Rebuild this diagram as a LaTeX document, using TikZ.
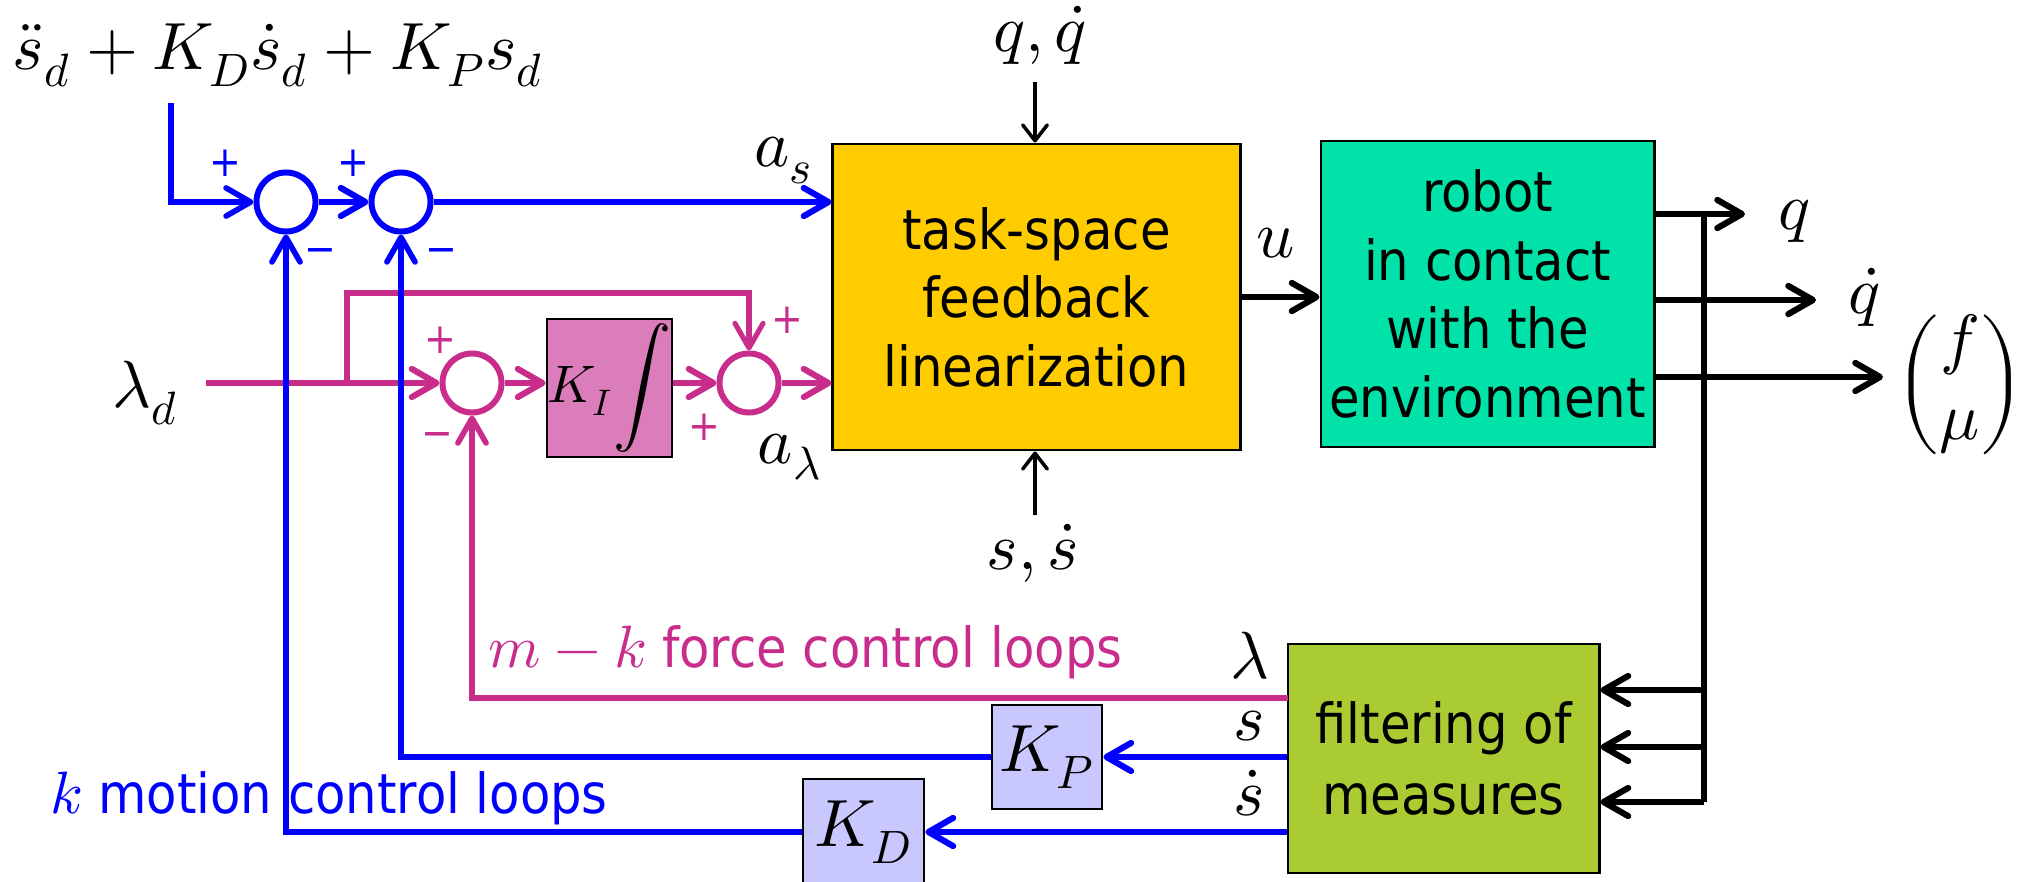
\documentclass[tikz,border=0pt]{standalone}
\usepackage{amsmath}
\usepackage{unicode-math}
\setmainfont{DejaVu Sans Condensed}
\setmathfont{Latin Modern Math}
\usetikzlibrary{arrows.meta}
\definecolor{mblue}{RGB}{0,0,255}
\definecolor{mmag}{RGB}{200,45,140}
\definecolor{kifill}{RGB}{220,125,187}
\definecolor{yfill}{RGB}{255,204,0}
\definecolor{gfill}{RGB}{0,226,168}
\definecolor{ffill}{RGB}{170,204,50}
\definecolor{kfill}{RGB}{200,200,255}
\begin{document}
\begin{tikzpicture}[x=0.01cm,y=-0.01cm,
  >={Straight Barb[length=7pt,width=8pt,round]},
  smallarrow/.style={>={Straight Barb[length=4.5pt,width=7pt,round]}},
  thickln/.style={line width=1.75pt},
  thinln/.style={line width=1.6pt},
  branchln/.style={line width=1.45pt},
  hairln/.style={line width=1pt},
  sumnode/.style={circle,draw,line width=1.7pt,minimum size=0.59cm,inner sep=0pt},
  blockbox/.style={rectangle,draw=black,line width=0.8pt,inner sep=0pt},
  txt/.style={font=\fontsize{15.7}{19.5}\selectfont,align=center},
  mth/.style={font=\fontsize{19}{22}\selectfont,inner sep=0pt},
  sgn/.style={font=\fontsize{12}{12}\selectfont,inner sep=0pt},
]
\useasboundingbox (0,0) rectangle (2020,882);

% blocks
\node[blockbox,fill=yfill,minimum width=4.07cm,minimum height=3.06cm,txt] (tsfl) at (1036.5,297) {task-space\\feedback\\linearization};
\node[blockbox,fill=gfill,minimum width=3.33cm,minimum height=3.06cm,txt] (robot) at (1487.5,294) {robot\\in contact\\with the\\environment};
\node[blockbox,fill=ffill,minimum width=3.11cm,minimum height=2.29cm,font=\fontsize{15.7}{20}\selectfont,align=center] (filt) at (1443.5,758.5) {filtering of\\measures};
\node[blockbox,fill=kifill,minimum width=1.25cm,minimum height=1.38cm,font=\fontsize{15}{15}\selectfont] (KI) at (609.5,388) {\makebox[1.15cm]{$K_I$\hfill{\fontsize{16.5}{16.5}\selectfont$\displaystyle\int$}}};
\node[blockbox,fill=kfill,minimum width=1.10cm,minimum height=1.04cm,mth] (KP) at (1047,757) {$K_P$};
\node[blockbox,fill=kfill,minimum width=1.21cm,minimum height=1.06cm,mth] (KD) at (863.5,832) {$K_D$};

% summing junctions
\node[sumnode,draw=mblue] (s1) at (286,202) {};
\node[sumnode,draw=mblue] (s2) at (401,202) {};
\node[sumnode,draw=mmag] (s3) at (472,383) {};
\node[sumnode,draw=mmag] (s4) at (749,383) {};

% force reference
\node[mth,anchor=base] (ld) at (146,408) {$\lambda_d$};
\coordinate (ld0) at (206,383);
\coordinate (br) at (347,383);
\coordinate (bt) at (347,293);
\draw[->,mmag,thickln] (ld0) -- (s3.west);
\draw[->,mmag,branchln] (br) -- (bt) -| (s4.north);
\draw[->,mmag,thickln] (s3.east) -- (s3.east -| KI.west);
\draw[->,mmag,thickln] (s4.west -| KI.east) -- (s4.west);
\draw[->,mmag,thickln] (s4.east) -- (s4 -| tsfl.west);
\node[mth,anchor=base] (al) at (790,463) {$a_\lambda$};
\node[sgn,text=mmag] (p3) at (440,340) {+};
\node[sgn,text=mmag] (m3) at (437,440) {−};
\node[sgn,text=mmag] (p4) at (787,320) {+};
\node[sgn,text=mmag] (p5) at (704,427) {+};

% motion reference
\node[mth,anchor=base west] (fml) at (12,70) {$\ddot{s}_d+K_D\dot{s}_d+K_P s_d$};
\coordinate (f0) at (171,103);
\draw[->,mblue,thinln] (f0) |- (s1.west);
\draw[->,mblue,thickln] (s1.east) -- (s2.west);
\draw[->,mblue,thickln] (s2.east) -- (s2 -| tsfl.west);
\node[mth,anchor=base] (as) at (784,167) {$a_s$};
\node[sgn,text=mblue] (p1) at (225,163) {+};
\node[sgn,text=mblue] (p2) at (353,163) {+};
\node[sgn,text=mblue] (m1) at (320,256) {−};
\node[sgn,text=mblue] (m2) at (441,256) {−};

% plant
\node[mth,anchor=base] (qq) at (1040,52) {$q,\dot{q}$};
\coordinate (qa) at (1035,82);
\draw[->,hairln,smallarrow] (qa) -- (qa |- tsfl.north);
\node[mth,anchor=base] (ss) at (1033,570) {$s,\dot{s}$};
\coordinate (sa) at (1035,515);
\draw[->,hairln,smallarrow] (sa) -- (sa |- tsfl.south);
\node[mth,anchor=base] (u) at (1276,258) {$u$};
\draw[->,thickln] (tsfl.east) -- (tsfl.east -| robot.west);

% outputs
\coordinate (o1) at (1745,214);
\coordinate (o2) at (1816,300);
\coordinate (o3) at (1883,377);
\draw[->,thickln] (robot.east |- o1) -- (o1);
\draw[->,thickln] (robot.east |- o2) -- (o2);
\draw[->,thickln] (robot.east |- o3) -- (o3);
\node[mth,anchor=base] (qo) at (1795,230) {$q$};
\node[mth,anchor=base] (qdo) at (1864,314) {$\dot{q}$};
\node[mth] (fmu) at (1960,385) {$\begin{pmatrix} f\\ \mu\end{pmatrix}$};

% measurement bus
\coordinate (vt) at (1704,214);
\coordinate (v1) at (1704,690);
\coordinate (v2) at (1704,747);
\coordinate (v3) at (1704,802);
\draw[thinln] (vt) -- (v3);
\draw[->,thickln] (v1) -- (v1 -| filt.east);
\draw[->,thickln] (v2) -- (v2 -| filt.east);
\draw[->,thickln] (v3) -- (v3 -| filt.east);

% feedback
\coordinate (fl) at (1288,698);
\draw[->,mmag,thinln] (fl) -| (s3.south);
\draw[mmag,thickln] (fl) -- (fl -| s3);
\node[mth,anchor=base] (lam) at (1250,678) {$\lambda$};

\draw[->,mblue,thickln] (filt.west |- KP) -- (KP.east);
\draw[->,mblue,thinln] (KP.west) -| (s2.south);
\draw[mblue,thickln] (KP.west) -- (KP.west -| s2);
\node[mth,anchor=base] (sl) at (1249,740) {$s$};

\draw[->,mblue,thickln] (filt.west |- KD) -- (KD.east);
\draw[->,mblue,thinln] (KD.west) -| (s1.south);
\draw[mblue,thickln] (KD.west) -- (KD.west -| s1);
\node[mth,anchor=base] (sdl) at (1249,815) {$\dot{s}$};

% loop captions
\node[anchor=base west,inner sep=0pt,text=mmag,font=\fontsize{15.7}{19}\selectfont] (fcl) at (488,667) {{\fontsize{17}{17}\selectfont$m-k$} force control loops};
\node[anchor=base west,inner sep=0pt,text=mblue,font=\fontsize{15.7}{19}\selectfont] (mcl) at (50,813) {{\fontsize{17}{17}\selectfont$k$} motion control loops};
\end{tikzpicture}
\end{document}
